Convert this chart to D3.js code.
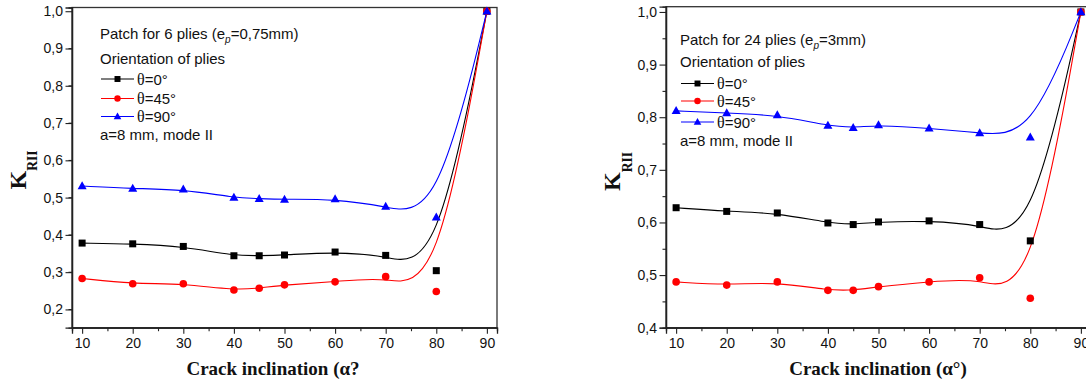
<!DOCTYPE html>
<html><head><meta charset="utf-8">
<script src="https://cdn.jsdelivr.net/npm/d3@7"></script>
<style>body{margin:0;background:#fff}svg{display:block}</style>
</head><body>
<svg id="c" width="1086" height="383"></svg>
<script>
// ---- data ----
const angles = [10, 20, 30, 40, 45, 50, 60, 70, 80, 90];
const xTicks = [10, 20, 30, 40, 50, 60, 70, 80, 90];

// Left panel: patch for 6 plies
const left_theta0  = [0.378, 0.376, 0.369, 0.344, 0.344, 0.346, 0.354, 0.345, 0.304, 1.0];
const left_theta45 = [0.283, 0.269, 0.269, 0.252, 0.257, 0.266, 0.274, 0.288, 0.248, 1.0];
const left_theta90 = [0.531, 0.524, 0.522, 0.500, 0.497, 0.495, 0.496, 0.476, 0.447, 1.0];
const leftYTicks = [0.2, 0.3, 0.4, 0.5, 0.6, 0.7, 0.8, 0.9, 1.0];

// Right panel: patch for 24 plies
const right_theta0  = [0.628, 0.621, 0.618, 0.599, 0.596, 0.601, 0.603, 0.596, 0.565, 1.0];
const right_theta45 = [0.487, 0.481, 0.487, 0.471, 0.471, 0.478, 0.487, 0.495, 0.456, 1.0];
const right_theta90 = [0.812, 0.808, 0.804, 0.784, 0.780, 0.785, 0.779, 0.770, 0.762, 1.0];
const rightYTicks = [0.4, 0.5, 0.6, 0.7, 0.8, 0.9, 1.0];

const seriesNames = ["θ=0°", "θ=45°", "θ=90°"];
const seriesColors = ["#000000", "#ff0000", "#0000ff"];
const seriesSymbols = ["square", "circle", "triangle"];

const svg = d3.select("#c");
const fmt = d => d3.format(".1f")(d).replace(".", ",");
const SANS = "Liberation Sans, Arial, sans-serif";
const SERIF = "Liberation Serif, Times New Roman, serif";

function panel(opt) {
  const g = svg.append("g");
  const x = d3.scaleLinear().domain([8, 92]).range([opt.x0, opt.x1]);
  const y = d3.scaleLinear().domain(opt.ydom).range([opt.y1, opt.y0]);

  // frame
  g.append("rect").attr("x", opt.x0).attr("y", opt.y0)
    .attr("width", opt.x1 - opt.x0).attr("height", opt.y1 - opt.y0)
    .attr("fill", "none").attr("stroke", "#333").attr("stroke-width", 1.3);

  const xMinor = d3.range(15, 92, 10);
  const yMinor = d3.range(opt.ydom[0] + 0.05, 1.0, 0.1).filter(v => v > opt.ydom[0]);
  g.append("g").attr("transform", `translate(0,${opt.y1})`)
    .call(d3.axisBottom(x).tickValues(xTicks).tickSize(6).tickPadding(4).tickFormat(d3.format("d")));
  g.append("g").attr("transform", `translate(0,${opt.y1})`)
    .call(d3.axisBottom(x).tickValues(xMinor).tickSize(3.5).tickFormat(""));
  g.append("g").attr("transform", `translate(${opt.x0},0)`)
    .call(d3.axisLeft(y).tickValues(opt.yTicks).tickSize(6.5).tickPadding(2.5).tickFormat(fmt));
  g.append("g").attr("transform", `translate(${opt.x0},0)`)
    .call(d3.axisLeft(y).tickValues(yMinor).tickSize(3.5).tickFormat(""));
  g.selectAll(".domain").attr("stroke", "#222").attr("stroke-width", 1.3);
  g.selectAll(".tick line").attr("stroke", "#222").attr("stroke-width", 1.1);
  g.selectAll(".tick text").attr("font-family", SANS).attr("font-size", 14).attr("fill", "#111");

  const clip = "clip" + opt.id;
  svg.append("clipPath").attr("id", clip).append("rect")
    .attr("x", opt.x0).attr("y", opt.y0 - 6).attr("width", opt.x1 - opt.x0).attr("height", opt.y1 - opt.y0 + 6);

  // B-spline curves through the data points as control points
  opt.series.forEach((vals, i) => {
    const pts = angles.map((a, k) => [a, vals[k]]);
    g.append("path").attr("clip-path", `url(#${clip})`)
      .attr("d", d3.line().x(p => x(p[0])).y(p => y(p[1])).curve(d3.curveBasis)(pts))
      .attr("fill", "none").attr("stroke", seriesColors[i]).attr("stroke-width", 1.1);
  });
  // markers
  opt.series.forEach((vals, i) => {
    angles.forEach((a, k) => drawSym(g, seriesSymbols[i], x(a), y(vals[k]), seriesColors[i]));
  });

  // legend
  const lx = opt.lx, ly = opt.ly;
  const t1 = g.append("text").attr("x", lx).attr("y", ly).attr("font-family", SANS).attr("font-size", 15).attr("fill", "#111");
  t1.append("tspan").text(opt.title1);
  t1.append("tspan").text("p").attr("font-style", "italic").attr("font-size", 10).attr("dy", 4);
  t1.append("tspan").text(opt.title2).attr("dy", -4);
  g.append("text").attr("x", lx).attr("y", ly + opt.dy0).attr("font-family", SANS).attr("font-size", 15)
    .attr("fill", "#111").text("Orientation of plies");
  seriesNames.forEach((nm, i) => {
    const yy = ly + opt.rows[i];
    g.append("line").attr("x1", lx + 1).attr("x2", lx + 34).attr("y1", yy).attr("y2", yy)
      .attr("stroke", seriesColors[i]).attr("stroke-width", 1.1);
    drawSym(g, seriesSymbols[i], lx + 17.5, yy, seriesColors[i], 0.85);
    g.append("text").attr("x", lx + 37).attr("y", yy + 5.5).attr("font-family", SERIF)
      .attr("font-size", 16).attr("fill", "#111").text("θ").append("tspan")
      .attr("font-family", SANS).attr("font-size", 15).text(nm.slice(1));
  });
  g.append("text").attr("x", lx).attr("y", ly + opt.dyA).attr("font-family", SANS).attr("font-size", 15)
    .attr("fill", "#111").text("a=8 mm, mode II");

  // y axis title
  const yt = g.append("text").attr("transform", `translate(${opt.ytx},${opt.yty}) rotate(-90)`)
    .attr("font-family", SERIF).attr("font-weight", "bold").attr("fill", "#111");
  yt.append("tspan").text("K").attr("font-size", 24);
  yt.append("tspan").text("RII").attr("font-size", 13.6).attr("dy", 11.6);

  // x axis title
  g.append("text").attr("x", opt.xtx).attr("y", 375).attr("text-anchor", "middle")
    .attr("font-family", SERIF).attr("font-weight", "bold")
    .attr("font-size", 19).attr("fill", "#111").text(opt.xTitle);
}

function drawSym(g, type, cx, cy, color, s = 1) {
  if (type === "square") {
    const a = 7 * s;
    g.append("rect").attr("x", cx - a / 2).attr("y", cy - a / 2).attr("width", a).attr("height", a).attr("fill", color);
  } else if (type === "circle") {
    g.append("circle").attr("cx", cx).attr("cy", cy).attr("r", 3.8 * s).attr("fill", color);
  } else {
    const h = 8 * s, w = 9 * s;
    g.append("path").attr("d", `M${cx},${cy - h * 0.6}L${cx + w / 2},${cy + h * 0.4}L${cx - w / 2},${cy + h * 0.4}Z`).attr("fill", color);
  }
}

panel({
  id: "L", x0: 72, x1: 497, y0: 7.5, y1: 327.7, ydom: [0.151, 1.01], yTicks: leftYTicks,
  series: [left_theta0, left_theta45, left_theta90],
  lx: 100, ly: 39, dy0: 24.5, rows: [40, 59.5, 77.5], dyA: 101,
  title1: "Patch for 6 plies (e", title2: "=0,75mm)",
  ytx: 25.7, yty: 189.5, xtx: 273, xTitle: "Crack inclination (α?"
});
panel({
  id: "R", x0: 666, x1: 1091, y0: 6.7, y1: 327.7, ydom: [0.4, 1.01], yTicks: rightYTicks,
  series: [right_theta0, right_theta45, right_theta90],
  lx: 680, ly: 44.5, dy0: 22.5, rows: [39, 56.5, 77.5], dyA: 101,
  title1: "Patch for 24 plies (e", title2: "=3mm)",
  ytx: 620, yty: 191, xtx: 878, xTitle: "Crack inclination (α°)"
});
</script>
</body></html>
